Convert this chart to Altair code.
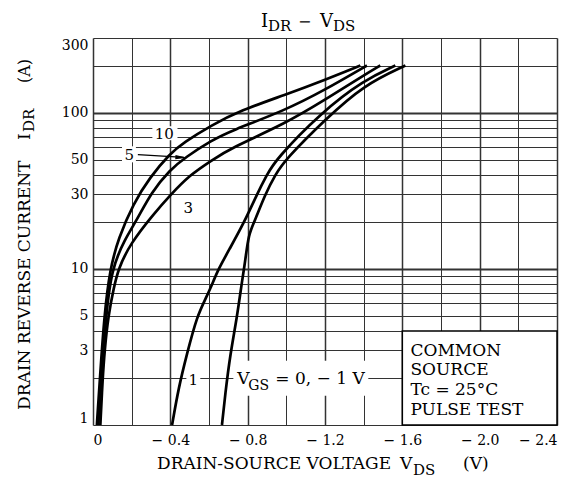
import altair as alt
import pandas as pd

# ---------------- data ----------------
CURVE_NAMES = ["10", "5", "3", "1", "0"]
V_10 = [-0.020, -0.036, -0.058, -0.088, -0.131, -0.208, -0.295, -0.398, -0.467, -0.614, -0.762, -0.995, -1.195, -1.383]
I_10 = [1, 2, 5, 10, 15.6, 26.1, 38.6, 54.5, 64.0, 83, 103, 130, 161, 200]
V_5 = [-0.027, -0.044, -0.067, -0.096, -0.166, -0.226, -0.303, -0.398, -0.476, -0.614, -0.710, -0.995, -1.197, -1.417]
I_5 = [1, 2, 5, 10, 15.6, 20.4, 31.0, 43.0, 51.5, 66.4, 76, 103.5, 139, 200]
V_3 = [-0.038, -0.050, -0.060, -0.079, -0.108, -0.131, -0.193, -0.312, -0.398, -0.502, -0.614, -0.710, -0.995, -1.197, -1.400, -1.486]
I_3 = [1, 2, 3, 5, 7.6, 10, 14.5, 22.3, 29.5, 40.0, 49.4, 59, 85, 120, 173, 200]
V_1 = [-0.409, -0.443, -0.486, -0.538, -0.590, -0.624, -0.650, -0.702, -0.784, -0.848, -0.900, -0.945, -1.180, -1.400, -1.564]
I_1 = [1, 1.74, 2.85, 5, 6.7, 8.4, 10, 13.1, 20, 30, 40, 50, 100, 161, 200]
V_0 = [-0.667, -0.684, -0.710, -0.745, -0.771, -0.788, -0.805, -0.835, -0.891, -0.943, -0.995, -1.200, -1.400, -1.616]
I_0 = [1, 1.58, 2.85, 4.9, 8.4, 11.3, 16.7, 20, 30, 40, 50, 90, 150, 200]

X_GRID = [0, -0.2, -0.4, -0.6, -0.8, -1.0, -1.2, -1.4, -1.6, -1.8, -2.0, -2.2, -2.4]
Y_GRID = [1, 2, 3, 4, 5, 6, 7, 8, 9, 10, 20, 30, 40, 50, 60, 70, 80, 90, 100, 200, 300]
Y_LABELS = [1, 3, 5, 10, 30, 50, 100, 300]

# curve labels (text, V, I)
CURVE_LABEL_TEXT = ["10", "5", "3", "1"]
CURVE_LABEL_V = [-0.369, -0.188, -0.493, -0.519]
CURVE_LABEL_I = [67.4, 49.4, 22.6, 1.79]

# VGS = 0, -1 V label pieces
VGS_TEXT = ["V", "GS", "= 0,  \u2212 1 V"]
VGS_V = [-0.7465, -0.8034, -0.943]
VGS_I = [1.84, 1.684, 1.84]
VGS_SIZE = [17, 14, 17]

# box note
BOX_TEXT = ["COMMON", "SOURCE", "Tc = 25\u00b0C", "PULSE TEST"]
BOX_V = [-1.642, -1.642, -1.642, -1.642]
BOX_I = [2.78, 2.10, 1.564, 1.164]
BOX_V1, BOX_V2, BOX_I1, BOX_I2 = -1.6, -2.4, 1, 4

# white masks behind labels (V1, V2, I1, I2)
MASK_V1 = [-0.307, -0.150, -0.483, -0.726]
MASK_V2 = [-0.437, -0.222, -0.555, -1.424]
MASK_I1 = [66.5, 48.0, 1.66, 1.54]
MASK_I2 = [81.7, 60.8, 2.23, 2.58]

# arrow for label "5"
ARROW_V = [-0.232, -0.470]
ARROW_I = [53.8, 51.7]
ARROW_HEAD_V = [-0.457]
ARROW_HEAD_I = [51.6]

FONT = "DejaVu Serif"

# ---------------- tables ----------------
rows = []
for name, vs, cs in zip(CURVE_NAMES, [V_10, V_5, V_3, V_1, V_0], [I_10, I_5, I_3, I_1, I_0]):
    for k, (v, c) in enumerate(zip(vs, cs)):
        rows.append({"curve": name, "idx": k, "V": v, "I": c})
curves = pd.DataFrame(rows)

masks = pd.DataFrame({"V1": MASK_V1, "V2": MASK_V2, "I1": MASK_I1, "I2": MASK_I2})
box = pd.DataFrame({"V1": [BOX_V1], "V2": [BOX_V2], "I1": [BOX_I1], "I2": [BOX_I2]})
clabels = pd.DataFrame({"t": CURVE_LABEL_TEXT, "V": CURVE_LABEL_V, "I": CURVE_LABEL_I})
vgs = pd.DataFrame({"t": VGS_TEXT, "V": VGS_V, "I": VGS_I, "fs": VGS_SIZE})
boxtxt = pd.DataFrame({"t": BOX_TEXT, "V": BOX_V, "I": BOX_I})
arrow = pd.DataFrame({"V": ARROW_V, "I": ARROW_I, "idx": [0, 1]})
arrowhead = pd.DataFrame({"V": ARROW_HEAD_V, "I": ARROW_HEAD_I})
one = pd.DataFrame({"a": [0]})

# ---------------- scales / axes ----------------
xscale = alt.Scale(domain=[-2.4, 0], reverse=True, nice=False, zero=False)
yscale = alt.Scale(type="log", domain=[1, 300], nice=False)

xaxis = alt.Axis(
    values=X_GRID, title=None, ticks=False, domain=False, grid=True,
    labelExpr="abs(datum.value) < 0.001 ? '0' : (round(abs(datum.value) * 10) % 4 == 0 ? '\u2212 ' + format(abs(datum.value), '.1f') : '')",
    labelFont=FONT, labelFontSize=14, labelColor="black", labelPadding=8,
    labelOverlap=False,
    gridColor="#333",
    gridWidth={"condition": {"test": "round(abs(datum.value) * 10) % 4 == 0", "value": 1.5}, "value": 1},
)
yaxis = alt.Axis(
    values=Y_GRID, title=None, ticks=False, domain=False, grid=True,
    labelExpr="indexof([1, 3, 5, 10, 30, 50, 100, 300], datum.value) >= 0 ? format(datum.value, 'd') : ''",
    labelFont=FONT, labelFontSize=14, labelColor="black", labelPadding=5,
    labelOverlap=False, labelFlush=True,
    gridColor="#333",
    gridWidth={"condition": {"test": "datum.value == 10 || datum.value == 100", "value": 1.8}, "value": 1},
)


def X(f):
    return alt.X(f, type="quantitative", scale=xscale, axis=xaxis)


def Y(f):
    return alt.Y(f, type="quantitative", scale=yscale, axis=yaxis)


mask_layer = alt.Chart(masks).mark_rect(fill="white", stroke=None).encode(
    x=X("V1"), x2="V2", y=Y("I1"), y2="I2"
)
box_layer = alt.Chart(box).mark_rect(fill="white", stroke="black", strokeWidth=1.5).encode(
    x=X("V1"), x2="V2", y=Y("I1"), y2="I2"
)
curve_layer = alt.Chart(curves).mark_line(
    color="black", strokeWidth=2.7, interpolate="basis"
).encode(
    x=X("V"), y=Y("I"), detail="curve:N", order="idx:Q"
)
arrow_layer = alt.Chart(arrow).mark_line(color="black", strokeWidth=1.3).encode(
    x=X("V"), y=Y("I"), order="idx:Q"
)
arrowhead_layer = alt.Chart(arrowhead).mark_point(
    shape="M 1 0 L -1 -0.35 L -1 0.35 Z", filled=True, color="black",
    opacity=1, size=144, angle=3, strokeWidth=0
).encode(x=X("V"), y=Y("I"))

clabel_layer = alt.Chart(clabels).mark_text(
    font=FONT, fontSize=15, align="center", baseline="alphabetic", color="black"
).encode(x=X("V"), y=Y("I"), text="t:N")
vgs_layer = alt.Chart(vgs).mark_text(
    font=FONT, align="left", baseline="alphabetic", color="black"
).encode(x=X("V"), y=Y("I"), text="t:N", size=alt.Size("fs:Q", scale=None, legend=None))
boxtxt_layer = alt.Chart(boxtxt).mark_text(
    font=FONT, fontSize=17, align="left", baseline="alphabetic", color="black"
).encode(x=X("V"), y=Y("I"), text="t:N")


def label(txt, x, y, size, angle=0):
    kw = dict(font=FONT, fontSize=size, align="left", baseline="alphabetic", color="black")
    if angle:
        kw["angle"] = angle
    return alt.Chart(one).mark_text(**kw).encode(
        x=alt.value(x), y=alt.value(y), text=alt.value(txt)
    )


titles = [
    # chart title  I_DR - V_DS
    label("I", 168, -11, 18),
    label("DR", 175, -7, 15),
    label("\u2212", 205, -11, 16),
    label("V", 227, -11, 18),
    label("DS", 240, -7, 15),
    # x axis title
    label("DRAIN-SOURCE VOLTAGE", 64, 431, 17),
    label("V", 307, 431, 17),
    label("DS", 320, 437, 15),
    label("(V)", 370, 431, 17),
    # y axis title (rotated)
    label("DRAIN REVERSE CURRENT", -63, 372, 17, 270),
    label("I", -63, 102, 17, 270),
    label("DR", -59, 94, 15, 270),
    label("(A)", -63, 45, 16, 270),
]

chart = alt.layer(
    mask_layer, box_layer, curve_layer, arrow_layer, arrowhead_layer,
    clabel_layer, vgs_layer, boxtxt_layer, *titles
).properties(
    width=464, height=387,
    autosize=alt.AutoSizeParams(type="none"),
    padding={"left": 85, "top": 30, "right": 18, "bottom": 58},
).configure_view(
    stroke="black", strokeWidth=2
).configure(background="white")

chart.save("out.html", embed_options={"renderer": "svg", "actions": False})
